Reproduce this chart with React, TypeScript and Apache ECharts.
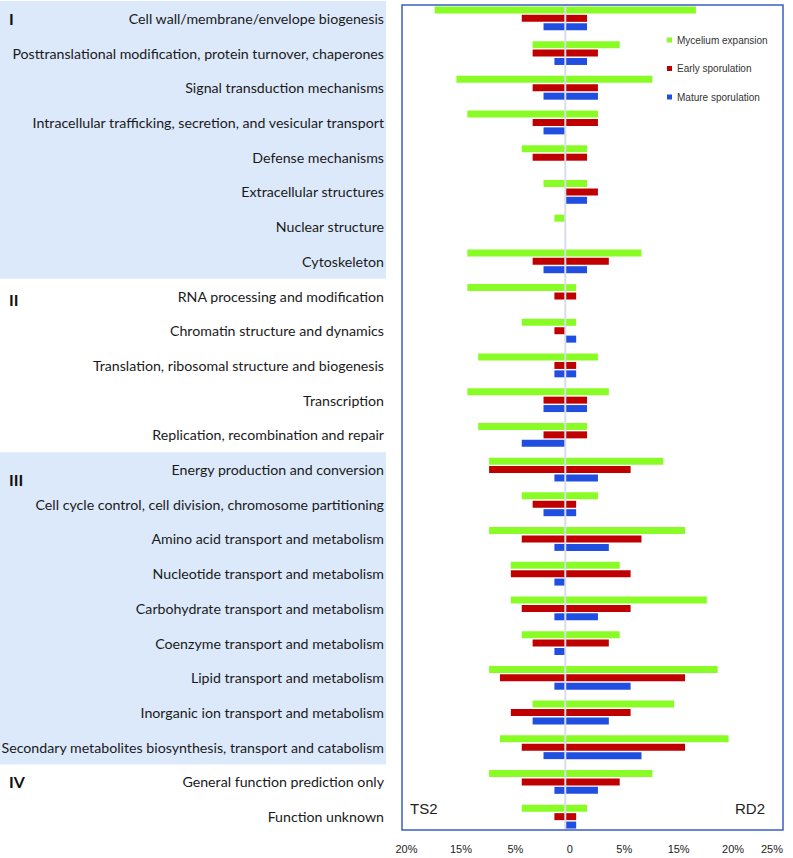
import React, { useEffect, useRef } from "react";
import * as echarts from "echarts";

const categories = [
  "Cell wall/membrane/envelope biogenesis",
  "Posttranslational modification, protein turnover, chaperones",
  "Signal transduction mechanisms",
  "Intracellular trafficking, secretion, and vesicular transport",
  "Defense mechanisms",
  "Extracellular structures",
  "Nuclear structure",
  "Cytoskeleton",
  "RNA processing and modification",
  "Chromatin structure and dynamics",
  "Translation, ribosomal structure and biogenesis",
  "Transcription",
  "Replication, recombination and repair",
  "Energy production and conversion",
  "Cell cycle control, cell division, chromosome partitioning",
  "Amino acid transport and metabolism",
  "Nucleotide transport and metabolism",
  "Carbohydrate transport and metabolism",
  "Coenzyme transport and metabolism",
  "Lipid transport and metabolism",
  "Inorganic ion transport and metabolism",
  "Secondary metabolites biosynthesis, transport and catabolism",
  "General function prediction only",
  "Function unknown",
];

// magnitudes on the TS2 side (drawn to the left) and the RD2 side (drawn to the right)
const myceliumTS2 = [12, 3, 10, 9, 4, 2, 1, 9, 9, 4, 8, 9, 8, 7, 4, 7, 5, 5, 4, 7, 3, 6, 7, 4];
const myceliumRD2 = [12, 5, 8, 3, 2, 2, 0, 7, 1, 1, 3, 4, 2, 9, 3, 11, 5, 13, 5, 14, 10, 15, 8, 2];
const earlyTS2 = [4, 3, 3, 3, 3, 0, 0, 3, 1, 1, 1, 2, 2, 7, 3, 4, 5, 4, 3, 6, 5, 4, 4, 1];
const earlyRD2 = [2, 3, 3, 3, 2, 3, 0, 4, 1, 0, 1, 2, 2, 6, 1, 7, 6, 6, 4, 11, 6, 11, 5, 1];
const matureTS2 = [2, 1, 2, 2, 0, 0, 0, 2, 0, 0, 1, 2, 4, 1, 2, 1, 1, 1, 1, 1, 3, 2, 1, 0];
const matureRD2 = [2, 2, 3, 0, 0, 2, 0, 2, 0, 1, 1, 2, 0, 3, 1, 4, 0, 3, 0, 6, 4, 7, 3, 1];

const seriesNames = ["Mycelium expansion", "Early sporulation", "Mature sporulation"];
const xTickLabels = ["20%", "15%", "5%", "0", "5%", "15%", "20%", "25%"];
const xMin = -15;
const xMax = 20;
const xStep = 5;

// functional groups: numeral, first and last category index, shaded or not
const groupNames = ["I", "II", "III", "IV"];
const groupFirst = [0, 8, 13, 22];
const groupLast = [7, 12, 21, 23];
const groupShaded = [true, false, true, false];

const sideLabels = ["TS2", "RD2"];

const COLORS = ["#88fc24", "#c00000", "#1f4ee0"];
const LABEL_FONT = "Lato, 'Noto Sans', sans-serif";
const ARIAL = "'Liberation Sans', Arial, sans-serif";

export default function App() {
  const ref = useRef<HTMLDivElement>(null);

  useEffect(() => {
    if (!ref.current) return;
    const chart = echarts.init(ref.current, undefined, { renderer: "svg" });

    const sides = [
      [myceliumTS2, myceliumRD2],
      [earlyTS2, earlyRD2],
      [matureTS2, matureRD2],
    ];

    const series: any[] = [];
    sides.forEach(([left, right], k) => {
      const common = {
        type: "bar",
        name: seriesNames[k],
        stack: "s" + k,
        barWidth: 7,
        barGap: "20%",
        itemStyle: { color: COLORS[k] },
        emphasis: { disabled: true },
      };
      series.push({ ...common, data: left.map((v) => (v === 0 ? 0 : -v)) });
      series.push({ ...common, data: right });
    });

    chart.setOption({
      animation: false,
      backgroundColor: "#ffffff",
      grid: {
        left: 402,
        right: 10,
        top: 1,
        bottom: 24,
        containLabel: false,
        outerBoundsMode: "none",
      },
      legend: {
        data: seriesNames,
        orient: "vertical",
        left: 662,
        top: 30,
        icon: "rect",
        itemWidth: 5,
        itemHeight: 5,
        itemGap: 18.5,
        textStyle: { fontSize: 10, fontFamily: ARIAL, color: "#333" },
      },
      xAxis: {
        type: "value",
        min: xMin,
        max: xMax,
        interval: xStep,
        axisLine: { show: false },
        axisTick: { show: false },
        splitLine: { show: false },
        axisLabel: {
          fontSize: 11,
          fontFamily: ARIAL,
          color: "#222",
          margin: 9,
          padding: [0, 0, 0, 9],
          alignMaxLabel: "right",
          formatter: (v: number) => xTickLabels[Math.round((v - xMin) / xStep)] ?? "",
        },
      },
      yAxis: {
        type: "category",
        inverse: true,
        data: categories,
        axisLine: { show: false },
        axisTick: { show: false },
        axisLabel: {
          fontSize: 14.2,
          fontFamily: LABEL_FONT,
          color: "#1a1a1a",
          margin: 18,
          interval: 0,
        },
      },
      series,
    });

    const yPx = (i: number) => chart.convertToPixel({ yAxisIndex: 0 }, i) as number;
    const x0 = chart.convertToPixel({ xAxisIndex: 0 }, 0) as number;
    const xL = chart.convertToPixel({ xAxisIndex: 0 }, xMin) as number;
    const xR = chart.convertToPixel({ xAxisIndex: 0 }, xMax) as number;
    const half = Math.abs(yPx(1) - yPx(0)) / 2;
    const boxTop = 5;
    const boxBottom = 830;

    const graphic: any[] = [];
    groupNames.forEach((g, gi) => {
      const top = yPx(groupFirst[gi]) - half;
      const bottom = yPx(groupLast[gi]) + half;
      if (groupShaded[gi]) {
        graphic.push({
          type: "rect",
          z: -10,
          silent: true,
          shape: { x: 0, y: Math.max(0, top), width: 386, height: bottom - Math.max(0, top) },
          style: { fill: "#dce9fa" },
        });
      }
      graphic.push({
        type: "text",
        z: 5,
        x: 9,
        y: yPx(groupFirst[gi]) + (gi === 2 ? 10 : gi === 1 ? 3 : 0),
        style: {
          text: g,
          fontSize: 16,
          fontWeight: "bold",
          fontFamily: LABEL_FONT,
          fill: "#111",
          verticalAlign: "middle",
          align: "left",
        },
      });
    });

    graphic.push({
      type: "line",
      z: 20,
      silent: true,
      shape: { x1: x0, y1: boxTop, x2: x0, y2: boxBottom },
      style: { stroke: "#d8dee8", lineWidth: 2 },
    });
    graphic.push({
      type: "rect",
      z: 21,
      silent: true,
      shape: { x: xL, y: boxTop, width: xR - xL, height: boxBottom - boxTop },
      style: { fill: "none", stroke: "#3c5ec4", lineWidth: 1.5 },
    });
    graphic.push({
      type: "text",
      z: 21,
      x: xL + 8,
      y: 808,
      style: { text: sideLabels[0], fontSize: 15, fontFamily: ARIAL, fill: "#222", verticalAlign: "middle", align: "left" },
    });
    graphic.push({
      type: "text",
      z: 21,
      x: xR - 18,
      y: 808,
      style: { text: sideLabels[1], fontSize: 15, fontFamily: ARIAL, fill: "#222", verticalAlign: "middle", align: "right" },
    });

    chart.setOption({ graphic });

    return () => chart.dispose();
  }, []);

  return (
    <div
      ref={ref}
      style={{ position: "fixed", left: 0, top: 0, width: 793, height: 858, background: "#fff" }}
    />
  );
}
